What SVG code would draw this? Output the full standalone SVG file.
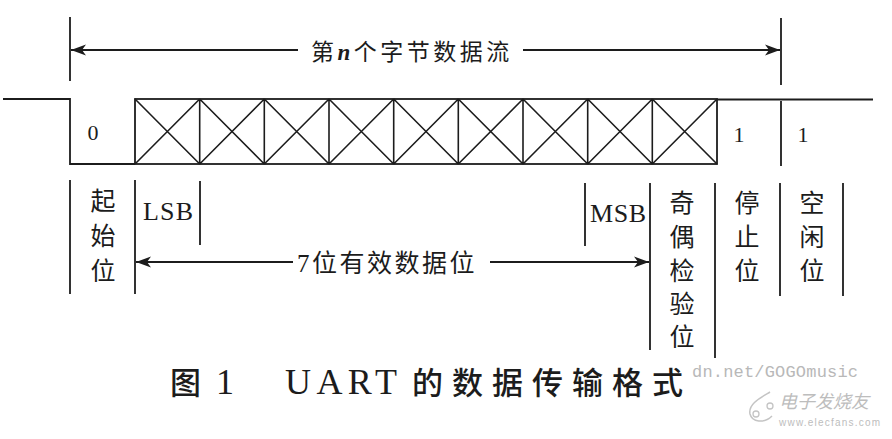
<svg xmlns="http://www.w3.org/2000/svg" width="892" height="439" viewBox="0 0 892 439">
<style>
.ln{stroke:#1c1c1c;stroke-width:1.8;fill:none}
.cx{stroke:#1c1c1c;stroke-width:1.6;fill:none}
.cj{font-family:"Liberation Serif","Noto Sans CJK SC",serif;font-size:25px;fill:#1c1c1c;text-anchor:middle}
.lat{font-family:"Liberation Serif",serif;fill:#1c1c1c}
.wm{font-family:"Liberation Mono","DejaVu Sans Mono",monospace;fill:#b8b8b8}
.cap{font-family:"Liberation Serif","Noto Sans CJK SC",serif;font-size:31px;fill:#1c1c1c;font-weight:500}
</style>
<defs>
<marker id="ah" markerWidth="16" markerHeight="12" refX="15" refY="6" orient="auto" markerUnits="userSpaceOnUse">
<path d="M0,0.5 L15,6 L0,11.5 L4,6 Z" fill="#1c1c1c"/>
</marker>
</defs>

<g id="watermark">
<text class="wm" x="692" y="377" font-size="17" textLength="166">dn.net/GOGOmusic</text>
<path d="M770,392 C760,398 748,404 750,414 C752,422 764,424 772,416" stroke="#c4c4c4" stroke-width="1.5" fill="none"/>
<circle cx="756" cy="414" r="3" stroke="#c4c4c4" stroke-width="1.3" fill="none"/>
<circle cx="770" cy="406" r="3" stroke="#c4c4c4" stroke-width="1.3" fill="none"/>
<text x="779" y="408" font-family="'Noto Sans CJK SC',sans-serif" font-size="18" font-style="italic" fill="#bdbdbd">电子发烧友</text>
<text x="779" y="426" font-family="'Liberation Sans',sans-serif" font-size="10" fill="#bdbdbd" textLength="101">www.elecfans.com</text>
</g>

<g id="connectors">
<line class="ln" x1="70" y1="17" x2="70" y2="81"/>
<line class="ln" x1="781" y1="18" x2="781" y2="85"/>
<line class="ln" x1="298" y1="50" x2="71" y2="50" marker-end="url(#ah)"/>
<line class="ln" x1="523" y1="50" x2="780" y2="50" marker-end="url(#ah)"/>
<line class="ln" x1="293" y1="262" x2="136" y2="262" marker-end="url(#ah)"/>
<line class="ln" x1="490" y1="262" x2="649" y2="262" marker-end="url(#ah)"/>
</g>

<g id="signal">
<polyline class="ln" points="3,99 70,99 70,164 135,164"/>
<line class="ln" x1="717" y1="99.5" x2="873" y2="99.5"/>
<line class="ln" x1="781" y1="101" x2="781" y2="166"/>
<rect class="ln" x="135" y="99" width="582" height="65"/>
<path class="cx" d="M199.7,99V164M264.3,99V164M329,99V164M393.7,99V164M458.3,99V164M523,99V164M587.7,99V164M652.3,99V164
M135,99L199.7,164M199.7,99L135,164
M199.7,99L264.3,164M264.3,99L199.7,164
M264.3,99L329,164M329,99L264.3,164
M329,99L393.7,164M393.7,99L329,164
M393.7,99L458.3,164M458.3,99L393.7,164
M458.3,99L523,164M523,99L458.3,164
M523,99L587.7,164M587.7,99L523,164
M587.7,99L652.3,164M652.3,99L587.7,164
M652.3,99L717,164M717,99L652.3,164"/>
<text class="lat" x="93" y="140" font-size="22" text-anchor="middle">0</text>
<text class="lat" x="739" y="142" font-size="22" text-anchor="middle">1</text>
<text class="lat" x="803" y="142" font-size="22" text-anchor="middle">1</text>
</g>

<g id="title-label">
<text x="311" y="60" font-family="'Liberation Serif','Noto Sans CJK SC',serif" font-size="23" fill="#1c1c1c" letter-spacing="3.5">第<tspan font-style="italic" font-weight="bold">n</tspan>个字节数据流</text>
</g>

<g id="dividers">
<line class="ln" x1="70" y1="180" x2="70" y2="294"/>
<line class="ln" x1="135" y1="180" x2="135" y2="294"/>
<line class="ln" x1="200" y1="181" x2="200" y2="245"/>
<line class="ln" x1="585" y1="183" x2="585" y2="246"/>
<line class="ln" x1="650" y1="183" x2="650" y2="350"/>
<line class="ln" x1="715" y1="183" x2="715" y2="358"/>
<line class="ln" x1="780" y1="183" x2="780" y2="296"/>
<line class="ln" x1="843" y1="183" x2="843" y2="296"/>
</g>

<g id="start-bit">
<text class="cj" x="103" y="210">起</text>
<text class="cj" x="103" y="245">始</text>
<text class="cj" x="103" y="280">位</text>
</g>

<g id="lsb"><text class="lat" x="143" y="220" font-size="26" textLength="50">LSB</text></g>
<g id="msb"><text class="lat" x="590" y="222" font-size="26" textLength="56">MSB</text></g>

<g id="data-label">
<text x="297" y="272" font-family="'Liberation Serif','Noto Sans CJK SC',serif" font-size="25" fill="#1c1c1c" letter-spacing="2.5">7位有效数据位</text>
</g>

<g id="parity-bit">
<text class="cj" x="682" y="212">奇</text>
<text class="cj" x="682" y="246">偶</text>
<text class="cj" x="682" y="280">检</text>
<text class="cj" x="682" y="313">验</text>
<text class="cj" x="682" y="346">位</text>
</g>

<g id="stop-bit">
<text class="cj" x="747" y="212">停</text>
<text class="cj" x="747" y="246">止</text>
<text class="cj" x="747" y="280">位</text>
</g>

<g id="idle-bit">
<text class="cj" x="812" y="212">空</text>
<text class="cj" x="812" y="246">闲</text>
<text class="cj" x="812" y="280">位</text>
</g>

<g id="caption">
<text class="cap" x="170" y="394">图</text>
<text class="lat" x="216" y="394" font-size="36">1</text>
<text class="lat" x="285" y="394" font-size="36" textLength="112">UART</text>
<text class="cap" x="412" y="394" letter-spacing="9">的数据传输格式</text>
</g>
</svg>
